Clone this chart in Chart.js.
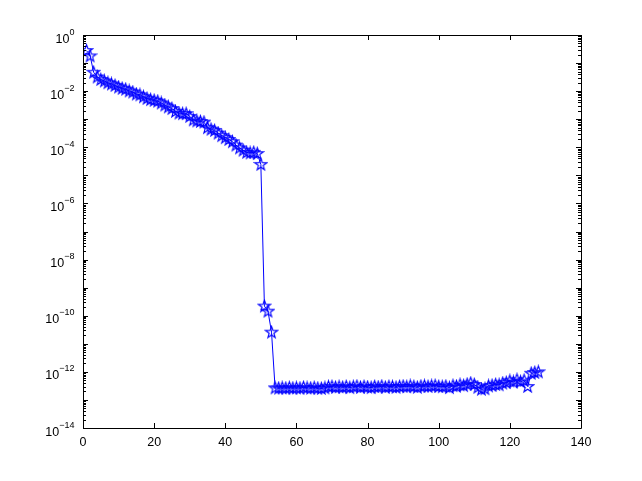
<!DOCTYPE html>
<html><head><meta charset="utf-8">
<script src="https://cdn.jsdelivr.net/npm/chart.js@4/dist/chart.umd.min.js"></script>
<style>html,body{margin:0;padding:0;background:#fff;overflow:hidden}</style>
</head><body>
<canvas id="c" width="642" height="481"></canvas>
<script>
// iteration index (x axis)
const iterations = [
 1,2,3,4,5,6,7,8,9,10,11,12,13,14,15,16,17,18,19,20,21,22,23,24,25,26,27,28,29,30,31,32,
 33,34,35,36,37,38,39,40,41,42,43,44,45,46,47,48,49,50,51,52,53,54,55,56,57,58,59,60,61,62,63,64,
 65,66,67,68,69,70,71,72,73,74,75,76,77,78,79,80,81,82,83,84,85,86,87,88,89,90,91,92,93,94,95,96,
 97,98,99,100,101,102,103,104,105,106,107,108,109,110,111,112,113,114,115,116,117,118,119,120,121,122,123,124,125,126,127,128];
// residual values (y axis, log scale)
const residuals = [
 2.8e-1,1.8e-1,4.7e-2,3.2e-2,2.6e-2,2.3e-2,2.0e-2,1.8e-2,1.6e-2,1.4e-2,1.26e-2,1.17e-2,1.02e-2,9.3e-3,7.9e-3,7.4e-3,
 6.3e-3,5.5e-3,5.0e-3,4.7e-3,4.4e-3,3.8e-3,3.2e-3,2.75e-3,2.4e-3,1.9e-3,1.66e-3,1.58e-3,1.58e-3,1.26e-3,9.5e-4,8.7e-4,
 8.3e-4,7.9e-4,5.0e-4,4.4e-4,4.0e-4,3.2e-4,2.6e-4,2.2e-4,1.9e-4,1.58e-4,1.2e-4,9.5e-5,7.9e-5,6.6e-5,6.3e-5,6.6e-5,
 6.0e-5,2.45e-5,2.2e-10,1.45e-10,2.6e-11,2.7e-13,2.63e-13,2.69e-13,2.63e-13,2.75e-13,2.63e-13,2.69e-13,2.63e-13,2.82e-13,2.69e-13,2.63e-13,
 2.75e-13,2.63e-13,2.57e-13,2.69e-13,2.95e-13,3.02e-13,2.82e-13,2.95e-13,2.82e-13,3.02e-13,2.75e-13,2.95e-13,3.09e-13,2.82e-13,3.02e-13,2.88e-13,
 2.75e-13,3.02e-13,2.88e-13,3.09e-13,2.82e-13,3.02e-13,2.95e-13,2.82e-13,3.02e-13,3.09e-13,2.95e-13,3.16e-13,3.02e-13,2.82e-13,3.09e-13,3.16e-13,
 3.02e-13,3.16e-13,3.24e-13,3.02e-13,2.95e-13,3.09e-13,2.75e-13,3.24e-13,3.09e-13,3.47e-13,3.24e-13,3.63e-13,3.98e-13,3.55e-13,2.82e-13,2.4e-13,
 2.51e-13,3.16e-13,3.31e-13,3.55e-13,3.47e-13,3.98e-13,4.17e-13,4.79e-13,4.37e-13,5.25e-13,4.47e-13,5.0e-13,3.02e-13,8.9e-13,9.5e-13,1.0e-12];
// axis ticks
const xTickValues = [0,20,40,60,80,100,120,140];
const yDecadeExponents = [0,-1,-2,-3,-4,-5,-6,-7,-8,-9,-10,-11,-12,-13,-14];
const yLabelExponents = [0,-2,-4,-6,-8,-10,-12,-14];

// pentagram marker
function makeStar(){
  const s = document.createElement('canvas');
  s.width = 15; s.height = 15;
  const g = s.getContext('2d');
  const cx = 7.5, cy = 7.8, R = 6.2, r = 2.5;
  g.beginPath();
  for (let i = 0; i < 10; i++) {
    const rad = (i % 2 === 0) ? R : r;
    const a = -Math.PI/2 + i*Math.PI/5;
    const px = cx + rad*Math.cos(a), py = cy + rad*Math.sin(a);
    if (i === 0) g.moveTo(px, py); else g.lineTo(px, py);
  }
  g.closePath();
  g.strokeStyle = '#0000ff';
  g.lineWidth = 1.15;
  g.stroke();
  return s;
}
const star = makeStar();

const FONT = '"Liberation Sans Narrow","Liberation Sans",Arial,sans-serif';

const axesPlugin = {
  id: 'matlabAxes',
  afterDraw(chart){
    const ctx = chart.ctx;
    const xs = chart.scales.x, ys = chart.scales.y;
    const L = chart.chartArea.left, R = chart.chartArea.right, T = chart.chartArea.top, B = chart.chartArea.bottom;
    ctx.save();
    ctx.strokeStyle = '#000';
    ctx.lineWidth = 1;
    ctx.beginPath();
    ctx.rect(Math.round(L)+0.5, Math.round(T)+0.5, Math.round(R)-Math.round(L), Math.round(B)-Math.round(T));
    ctx.stroke();
    const majorLen = 5, minorLen = 3;
    ctx.beginPath();
    xTickValues.forEach(v => {
      const px = Math.round(xs.getPixelForValue(v)) + 0.5;
      ctx.moveTo(px, B); ctx.lineTo(px, B - majorLen);
      ctx.moveTo(px, T); ctx.lineTo(px, T + majorLen);
    });
    yDecadeExponents.forEach(e => {
      const py = Math.round(ys.getPixelForValue(Math.pow(10, e))) + 0.5;
      ctx.moveTo(L, py); ctx.lineTo(L + majorLen, py);
      ctx.moveTo(R, py); ctx.lineTo(R - majorLen, py);
      if (e > -14) {
        for (let m = 2; m <= 9; m++) {
          const pm = Math.round(ys.getPixelForValue(m * Math.pow(10, e-1))) + 0.5;
          ctx.moveTo(L, pm); ctx.lineTo(L + minorLen, pm);
          ctx.moveTo(R, pm); ctx.lineTo(R - minorLen, pm);
        }
      }
    });
    ctx.stroke();
    ctx.fillStyle = '#000';
    ctx.font = '12.5px ' + FONT;
    ctx.textAlign = 'center';
    ctx.textBaseline = 'alphabetic';
    xTickValues.forEach(v => {
      ctx.fillText(String(v), xs.getPixelForValue(v), B + 17.5);
    });
    yLabelExponents.forEach(e => {
      const py = ys.getPixelForValue(Math.pow(10, e));
      const sup = e === 0 ? '0' : '\u2212' + String(-e);
      ctx.font = '9px ' + FONT;
      const sw = ctx.measureText(sup).width;
      const xr = L - 8.5;
      ctx.textAlign = 'right';
      ctx.fillText(sup, xr, py - 0.5);
      ctx.font = '12.5px ' + FONT;
      ctx.fillText('10', xr - sw, py + 7.5);
    });
    ctx.restore();
  }
};

new Chart(document.getElementById('c'), {
  type: 'line',
  data: {
    datasets: [{
      data: iterations.map((x, i) => ({x: x, y: residuals[i]})),
      borderColor: '#0000ff',
      backgroundColor: '#0000ff',
      borderWidth: 1,
      pointStyle: star,
      pointRadius: 6,
      tension: 0,
      fill: false
    }]
  },
  options: {
    responsive: false,
    animation: false,
    devicePixelRatio: 1,
    layout: { padding: { left: 83, right: 61, top: 35, bottom: 53 } },
    scales: {
      x: { type: 'linear', min: 0, max: 140, display: false },
      y: { type: 'logarithmic', min: 1e-14, max: 1, display: false }
    },
    plugins: { legend: { display: false }, tooltip: { enabled: false } }
  },
  plugins: [axesPlugin]
});
</script>
</body></html>
